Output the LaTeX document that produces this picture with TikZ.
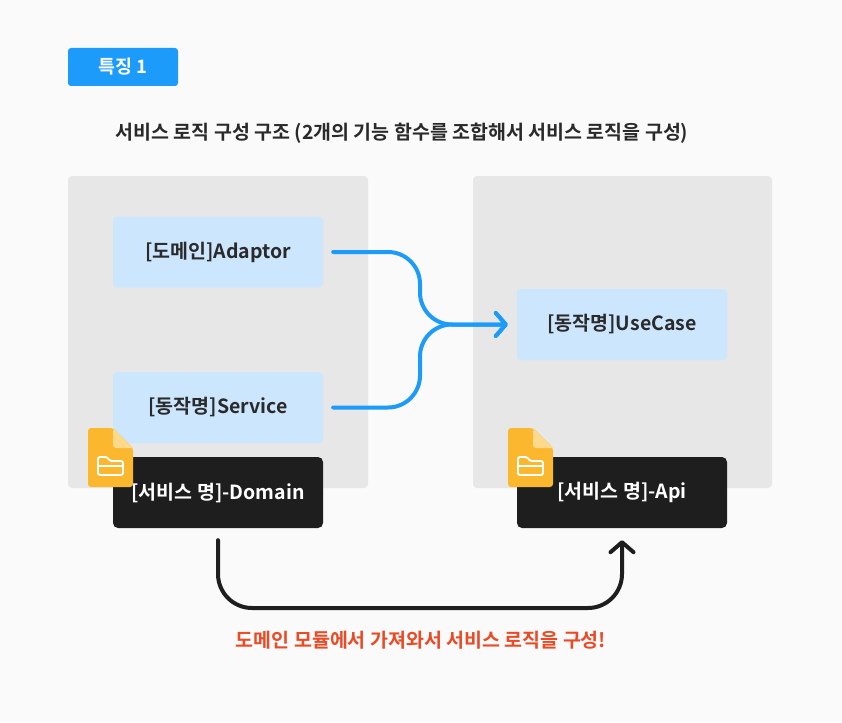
\documentclass[tikz,border=0pt]{standalone}
\usepackage{fontspec}
\setmainfont{Noto Sans CJK KR}[BoldFont={Noto Sans CJK KR Bold}]
\usetikzlibrary{arrows.meta,positioning,calc}
\definecolor{pagebg}{HTML}{FAFAFA}
\definecolor{panelgray}{HTML}{E7E7E7}
\definecolor{tagblue}{HTML}{1C9BFA}
\definecolor{boxblue}{HTML}{CCE6FD}
\definecolor{boxdark}{HTML}{1E1E1E}
\definecolor{inktext}{HTML}{2A2A2A}
\definecolor{noteRed}{HTML}{EB4A25}
\definecolor{iconorange}{HTML}{FBB72E}
\definecolor{iconfold}{HTML}{FDD98C}
\tikzset{
  panel/.style={fill=panelgray,rounded corners=4pt},
  lightbox/.style={fill=boxblue,rounded corners=4pt,minimum width=210pt,minimum height=71pt,
    text=inktext,font=\bfseries\fontsize{19.5}{22}\selectfont},
  darkbox/.style={fill=boxdark,rounded corners=5pt,minimum width=210pt,minimum height=71pt,
    text=white,font=\bfseries\fontsize{19.5}{22}\selectfont},
  flow/.style={draw=tagblue,line width=4pt,rounded corners=32pt,line cap=round,
    -{Straight Barb[length=10pt,width=23pt,round]}},
  back/.style={draw=boxdark,line width=4pt,rounded corners=34pt,line cap=round,
    -{Straight Barb[length=10pt,width=23pt,round]}},
}
% folder badge drawn at its top-left corner
\newcommand{\foldericon}[1]{%
  \begin{scope}[shift={#1}]
    \fill[iconorange,rounded corners=3pt] (0,0) -- (25,0) -- (45,20) -- (45,59) -- (0,59) -- cycle;
    \fill[iconfold] (25,0) -- (45,20) -- (29,20) [rounded corners=3pt] -- (25,20) -- cycle;
    \draw[white,line width=1.8pt,rounded corners=1.5pt,line join=round]
      (10,47) -- (10,29) -- (19,29) -- (22,33) -- (35,33) -- (35,47) -- cycle;
    \draw[white,line width=1.8pt] (10,38) -- (35,38);
  \end{scope}}
\begin{document}
\begin{tikzpicture}[x=1pt,y=-1pt]
  \fill[pagebg] (0,0) rectangle (842,722);
  \useasboundingbox (0,0) rectangle (842,722);

  \node[fill=tagblue,rounded corners=3pt,minimum width=110pt,minimum height=38pt,
        text=white,font=\bfseries\fontsize{18.5}{21}\selectfont] (badge) at (123,67) {특징 1};
  \node[anchor=west,text=inktext,font=\bfseries\fontsize{19.5}{22}\selectfont] (subtitle) at (112,133)
        {서비스 로직 구성 구조 (2개의 기능 함수를 조합해서 서비스 로직을 구성)};

  \fill[panel] (68,176) rectangle (368,488);
  \fill[panel] (473,176) rectangle (772,488);

  \node[lightbox] (adaptor) at (218,252) {[도메인]Adaptor};
  \node[lightbox] (service) at (218,407.5) {[동작명]Service};
  \node[lightbox] (usecase) at (622,324.5) {[동작명]UseCase};

  \node[darkbox] (domain) at (218,492.5) {[서비스 명]-Domain};
  \node[darkbox] (api) at (622,492.5) {[서비스 명]-Api};

  \foldericon{(88,428)}
  \foldericon{(508,428)}

  \coordinate (merge) at (420,324.5);
  \coordinate (low) at (421,608);
  \draw[flow] ([xshift=10pt]adaptor.east) -| (merge) -- ([xshift=-9pt]usecase.west);
  \draw[flow] ([xshift=10pt]service.east) -| (merge) -- ([xshift=-9pt]usecase.west);
  \draw[back] ([yshift=-12pt]domain.south) |- (low) -| ([yshift=-12pt]api.south);

  \node[text=noteRed,font=\bfseries\fontsize{19.5}{22}\selectfont] (note) at (421,640)
        {도메인 모듈에서 가져와서 서비스 로직을 구성!};
\end{tikzpicture}
\end{document}
